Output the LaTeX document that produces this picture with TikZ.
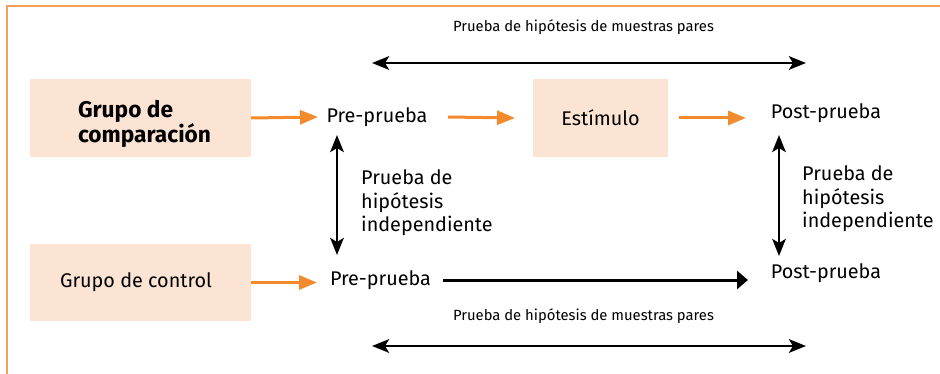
\documentclass[tikz,border=0pt]{standalone}
\usepackage{fontspec}
\setmainfont{Fira Sans}
\usetikzlibrary{arrows.meta,calc}
\definecolor{peach}{HTML}{FCE4D4}
\definecolor{arrorange}{HTML}{F28A2E}
\definecolor{frameorange}{HTML}{F4A05A}
\tikzset{
  groupbox/.style={fill=peach,draw=none,inner sep=0pt},
  lbl/.style={inner sep=0pt,font=\fontsize{19.8}{23.5}\selectfont},
  small/.style={inner sep=0pt,font=\fontsize{14.8}{16}\selectfont},
  orangearrow/.style={draw=arrorange,line width=3pt,-{Triangle[length=18pt,width=14pt]}},
  blackarrow/.style={draw=black,line width=3pt,-{Triangle[length=11pt,width=18pt]}},
  blackdouble/.style={draw=black,line width=2.8pt,{Stealth[length=17pt,width=13.5pt,inset=4pt]}-{Stealth[length=17pt,width=13.5pt,inset=4pt]}},
}
\begin{document}
\begin{tikzpicture}[x=1pt,y=-1pt]
\useasboundingbox (0,0) rectangle (940,374);
\clip (0,0) rectangle (940,374);
\draw[frameorange,line width=1.4pt] (7,380) -- (7,6) -- (945,6);

% boxes
\node[groupbox,minimum width=221pt,minimum height=78pt] (comp) at (140.5,118) {};
\node[lbl,font=\fontsize{22.7}{23.5}\selectfont\bfseries,align=left] (comptext) at (144.5,124) {Grupo de\\comparación};
\node[groupbox,minimum width=135pt,minimum height=78pt,lbl] (est) at (600.5,118) {Estímulo};
\node[groupbox,minimum width=221pt,minimum height=77pt] (ctrl) at (140.5,282.5) {};
\node[lbl] (ctrltext) at (136,282) {Grupo de control};

% text nodes
\node[lbl] (pre1) at (377,117) {Pre-prueba};
\node[lbl] (post1) at (826,113) {Post-prueba};
\node[lbl] (pre2) at (380.5,280) {Pre-prueba};
\node[lbl] (post2) at (826,273) {Post-prueba};

\node[lbl,align=left,anchor=west] (ind1) at (361,203) {Prueba de\\hipótesis\\independiente};
\node[lbl,align=left,anchor=west] (ind2) at (802,199) {Prueba de\\hipótesis\\independiente};

\node[small] (paresTop) at (583.5,27) {Prueba de hipótesis de muestras pares};
\node[small] (paresBot) at (583.5,316) {Prueba de hipótesis de muestras pares};

% coordinates for free-ended double arrows
\coordinate (t1) at (372,63);
\coordinate (t2) at (806,63);
\coordinate (b1) at (372,346);
\coordinate (b2) at (806,346);
\coordinate (v1a) at (337,135);
\coordinate (v1b) at (337,255);
\coordinate (v2a) at (779,135);
\coordinate (v2b) at (779,256);

% orange arrows
\draw[orangearrow] (comp.east) -- (pre1.west -| 318,0) ;
\draw[orangearrow] (pre1.east -| 448,0) -- (est.west -| 515,0);
\draw[orangearrow] (est.east -| 679,0) -- (est.east -| 746,0);
\draw[orangearrow] (ctrl.east) -- (ctrl.east -| 317,0);

% black arrows
\draw[blackarrow] (pre2.east -| 443,0) -- (pre2.east -| 748,0);
\draw[blackdouble] (t1) -- (t2);
\draw[blackdouble] (b1) -- (b2);
\draw[blackdouble] (v1a) -- (v1b);
\draw[blackdouble] (v2a) -- (v2b);
\end{tikzpicture}
\end{document}
